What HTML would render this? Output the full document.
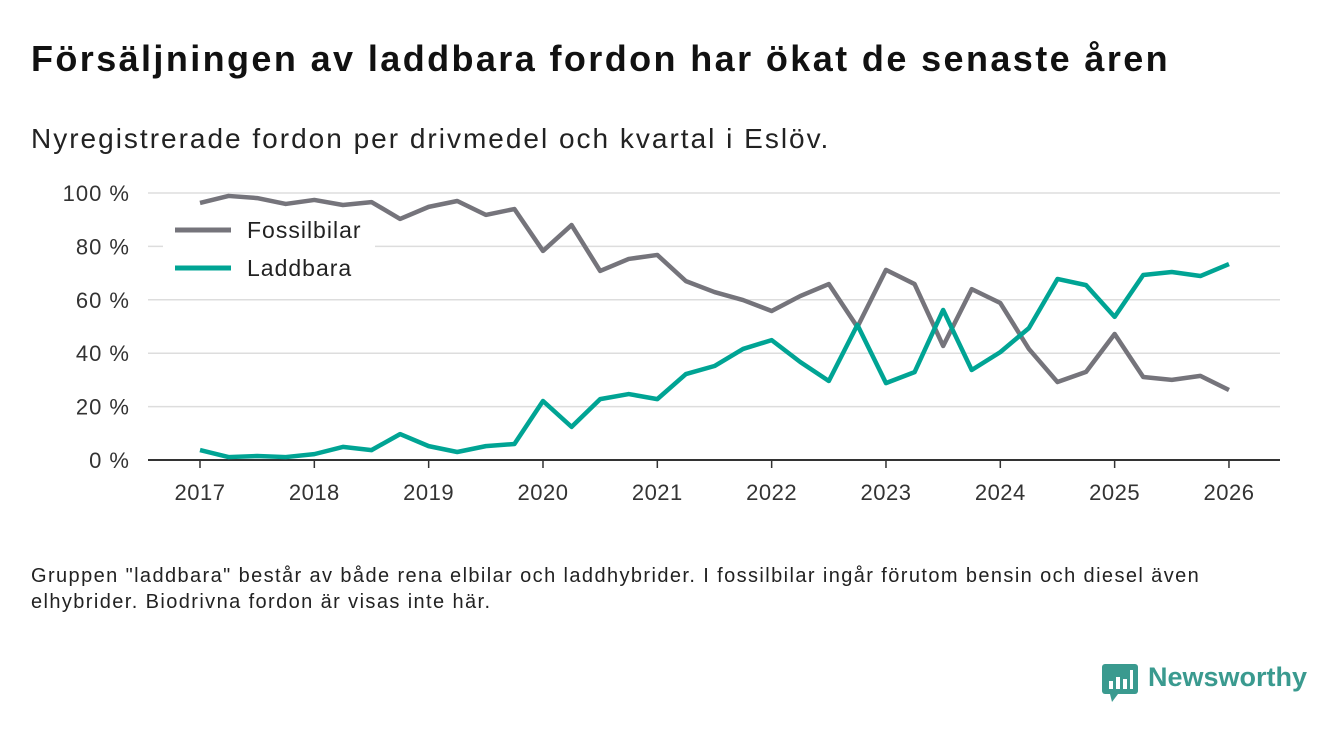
<!DOCTYPE html>
<html><head><meta charset="utf-8">
<style>
body{margin:0;width:1340px;height:733px;background:#fff;font-family:"Liberation Sans",sans-serif;overflow:hidden;position:relative}
h1{position:absolute;left:31px;top:38px;margin:0;font-size:36px;letter-spacing:2.4px;font-weight:bold;color:#111;white-space:nowrap}
.sub{position:absolute;left:31px;top:123px;font-size:28px;letter-spacing:2px;color:#222;white-space:nowrap}
.note{position:absolute;left:31px;top:563px;font-size:20px;letter-spacing:1.4px;color:#222;line-height:26px;white-space:nowrap}
svg{position:absolute;left:0;top:0}
.logo{position:absolute;left:1102px;top:662px;font-size:27px;font-weight:bold;color:#3a9a8f}
</style></head><body>
<h1>Försäljningen av laddbara fordon har ökat de senaste åren</h1>
<div class="sub">Nyregistrerade fordon per drivmedel och kvartal i Eslöv.</div>
<svg id="c" width="1340" height="733"></svg>
<div class="note">Gruppen "laddbara" består av både rena elbilar och laddhybrider. I fossilbilar ingår förutom bensin och diesel även<br>elhybrider. Biodrivna fordon är visas inte här.</div>
<div class="logo"><svg width="36" height="38" style="position:absolute;left:0;top:2px"><rect x="0" y="0" width="36" height="30" rx="3" fill="#3a9a8f"/><polygon points="8,30 16,30 10,38" fill="#3a9a8f"/><rect x="7" y="17" width="4" height="8" fill="#fff"/><rect x="14" y="13" width="4" height="12" fill="#fff"/><rect x="21" y="15" width="4" height="10" fill="#fff"/><rect x="28" y="6" width="3" height="19" fill="#fff"/></svg><span style="margin-left:46px">Newsworthy</span></div>
<script>
const years=[2017,2018,2019,2020,2021,2022,2023,2024,2025,2026];
const yTicks=[0,20,40,60,80,100];
const fossil=[96.3,98.9,98.1,95.9,97.4,95.5,96.6,90.3,94.8,97.0,91.8,94.0,78.3,88.0,70.8,75.3,76.8,67.0,62.9,59.9,55.8,61.4,65.9,49.8,71.2,65.9,42.7,64.0,58.8,41.6,29.2,33.0,47.2,31.1,30.0,31.5,26.2];
const laddbara=[3.7,1.1,1.5,1.1,2.2,4.9,3.7,9.7,5.2,3.0,5.2,6.0,22.1,12.4,22.8,24.7,22.8,32.2,35.2,41.6,44.9,36.7,29.6,50.6,28.8,32.9,56.2,33.7,40.4,49.4,67.8,65.5,53.6,69.3,70.4,68.9,73.4];
const svg=document.getElementById('c');const NS='http://www.w3.org/2000/svg';
const X=t=>200+(t-2017)*114.33, Y=v=>460-v*2.67;
function el(tag,a,p){const e=document.createElementNS(NS,tag);for(const k in a)e.setAttribute(k,a[k]);(p||svg).appendChild(e);return e;}
yTicks.forEach(v=>{
 const g=el('line',{x1:148,x2:1280,y1:Y(v),y2:Y(v),stroke:v?'#ddd':'#333','stroke-width':v?1.5:2});
 
 
 const t=el('text',{x:130,y:Y(v)+8,'text-anchor':'end','font-size':22,'letter-spacing':1,fill:'#333','font-family':'Liberation Sans'});t.textContent=v+' %';
 
 
});
years.forEach(y=>{
 const l=el('line',{x1:X(y),x2:X(y),y1:460,y2:468,stroke:'#333','stroke-width':1.5});
 
 
 const t=el('text',{x:X(y),y:500,'text-anchor':'middle','font-size':22,'letter-spacing':0.5,fill:'#333','font-family':'Liberation Sans'});t.textContent=y;
 
 
});
function line(d,c,n){const p=el('polyline',{points:d.map((v,i)=>X(2017+i/4)+','+Y(v)).join(' '),fill:'none',stroke:c,'stroke-width':4.5,'stroke-linejoin':'round'});
 
 }
line(fossil,'#75747b','series-fossilbilar');
line(laddbara,'#00a494','series-laddbara');
el('rect',{x:163,y:212,width:212,height:75,fill:'#fff'});
[['Fossilbilar','#75747b',230],['Laddbara','#00a494',268]].forEach(([n,c,y])=>{
 const l=el('line',{x1:175,x2:231,y1:y,y2:y,stroke:c,'stroke-width':5});
 
 
 const t=el('text',{x:247,y:y+8,'font-size':23,'letter-spacing':1,fill:'#222','font-family':'Liberation Sans'});t.textContent=n;
 
 
});
</script>
</body></html>
